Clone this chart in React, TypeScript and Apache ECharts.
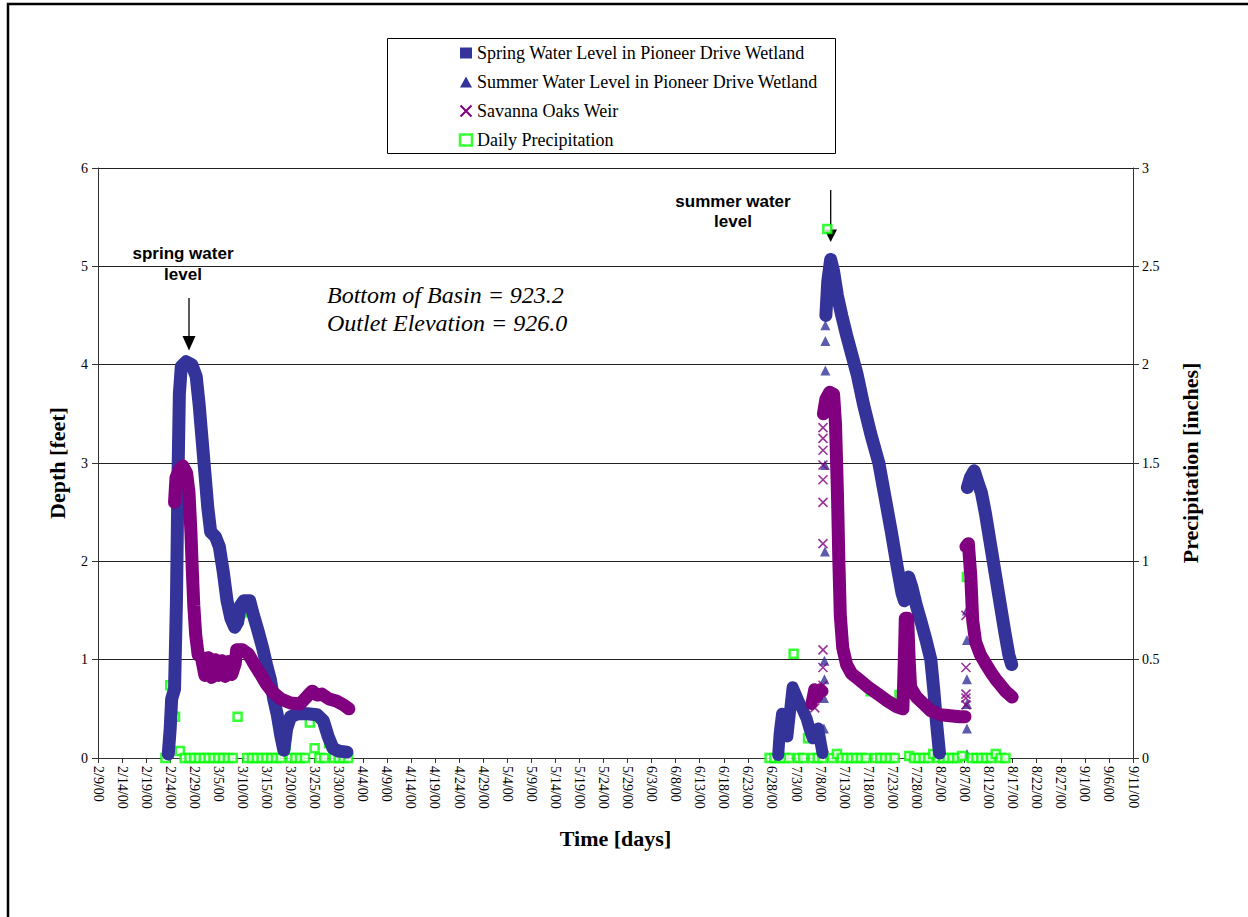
import React, { useEffect, useRef } from "react";
import * as echarts from "echarts";

const SPRING = "Spring Water Level in Pioneer Drive Wetland";
const SUMMER = "Summer Water Level in Pioneer Drive Wetland";
const WEIR = "Savanna Oaks Weir";
const PRECIP = "Daily Precipitation";

// x values are days after 2/9/00; tick every 5 days
const dateTickLabels = [
  "2/9/00", "2/14/00", "2/19/00", "2/24/00", "2/29/00", "3/5/00", "3/10/00", "3/15/00",
  "3/20/00", "3/25/00", "3/30/00", "4/4/00", "4/9/00", "4/14/00", "4/19/00", "4/24/00",
  "4/29/00", "5/4/00", "5/9/00", "5/14/00", "5/19/00", "5/24/00", "5/29/00", "6/3/00",
  "6/8/00", "6/13/00", "6/18/00", "6/23/00", "6/28/00", "7/3/00", "7/8/00", "7/13/00",
  "7/18/00", "7/23/00", "7/28/00", "8/2/00", "8/7/00", "8/12/00", "8/17/00", "8/22/00",
  "8/27/00", "9/1/00", "9/6/00", "9/11/00",
];

// [day, depth ft]
const springLevel: [number, number][] = [
  [14.6, 0.04], [15.0, 0.3], [15.3, 0.6], [15.9, 0.7], [16.3, 1.6], [16.6, 2.8], [16.9, 3.7],
  [17.3, 3.98], [18.3, 4.03], [19.5, 4.0], [20.4, 3.88], [21.0, 3.6], [21.6, 3.25], [22.2, 2.9],
  [22.8, 2.55], [23.4, 2.3], [24.4, 2.25], [25.2, 2.15], [26.0, 1.9], [26.8, 1.6], [27.6, 1.42],
  [28.4, 1.33], [29.0, 1.38], [29.6, 1.55], [30.3, 1.6], [31.5, 1.6], [32.3, 1.45], [33.2, 1.3],
  [34.2, 1.12], [35.0, 0.95], [35.8, 0.8], [36.5, 0.6], [37.2, 0.45], [38.0, 0.22], [38.6, 0.08],
  [39.2, 0.3], [40.0, 0.42], [41.5, 0.45], [43.5, 0.45], [45.5, 0.44], [46.8, 0.38], [47.8, 0.22],
  [48.8, 0.1], [50.0, 0.07], [51.7, 0.06],
];

const summerLevelEarly: [number, number][] = [
  [141.3, 0.03], [141.6, 0.25], [142.1, 0.45], [142.6, 0.35], [143.2, 0.22], [143.7, 0.45],
  [144.3, 0.72], [144.8, 0.66], [145.5, 0.58], [146.3, 0.5], [147.2, 0.4], [147.9, 0.28],
  [148.5, 0.2], [149.1, 0.27], [149.6, 0.3], [150.1, 0.16], [150.5, 0.05],
];

const summerLevelMain: [number, number][] = [
  [151.2, 4.5], [151.6, 4.85], [152.2, 5.07], [152.8, 4.95], [153.6, 4.7], [154.5, 4.5],
  [155.5, 4.3], [156.6, 4.1], [157.7, 3.9], [159.0, 3.6], [160.5, 3.3], [162.2, 3.0],
  [163.5, 2.65], [164.8, 2.3], [166.0, 1.95], [167.0, 1.68], [167.5, 1.6], [168.0, 1.78],
  [168.4, 1.84], [169.0, 1.75], [170.0, 1.55], [171.0, 1.38], [172.0, 1.2], [173.0, 1.0],
  [173.6, 0.7], [174.2, 0.35], [174.8, 0.05],
];

const summerLevelLate: [number, number][] = [
  [180.6, 2.75], [181.2, 2.85], [182.0, 2.92], [182.8, 2.8], [183.5, 2.7], [184.3, 2.5],
  [185.3, 2.2], [186.3, 1.9], [187.3, 1.6], [188.3, 1.3], [189.2, 1.05], [189.8, 0.95],
];

const summerRiseMarks: [number, number][] = [
  [150.8, 0.11], [150.8, 0.3], [150.8, 0.61], [150.9, 0.8], [150.9, 0.99], [151.0, 2.1],
  [151.0, 2.98], [151.1, 3.94], [151.1, 4.24], [151.1, 4.4],
  [180.5, 0.04], [180.5, 0.3], [180.5, 0.55], [180.5, 0.8], [180.5, 1.2], [180.5, 1.5],
];

const weirSpring: [number, number][] = [
  [15.9, 2.6], [16.2, 2.85], [16.8, 2.92], [17.6, 2.97], [18.4, 2.9], [18.9, 2.7], [19.3, 2.3],
  [19.6, 1.9], [19.9, 1.55], [20.3, 1.25], [20.8, 1.05], [21.5, 1.02], [22.2, 0.84], [22.9, 1.02],
  [23.6, 0.82], [24.3, 1.0], [25.0, 0.84], [25.7, 0.99], [26.4, 0.83], [27.1, 0.98], [27.8, 0.85],
  [28.5, 0.96], [28.8, 1.1], [30.0, 1.1], [31.2, 1.06], [32.5, 0.95], [33.8, 0.85], [35.0, 0.75],
  [36.3, 0.67], [38.0, 0.6], [40.0, 0.56], [42.0, 0.55], [43.5, 0.63], [44.5, 0.68], [45.5, 0.64],
  [46.5, 0.65], [48.0, 0.6], [49.5, 0.58], [51.0, 0.54], [52.1, 0.5],
];

const weirSummerEarly: [number, number][] = [
  [148.2, 0.55], [148.8, 0.7], [149.4, 0.62], [150.0, 0.7], [150.5, 0.68],
];

const weirSummerMain: [number, number][] = [
  [150.7, 3.5], [151.2, 3.65], [152.0, 3.72], [152.8, 3.7], [153.2, 3.4], [153.6, 2.7],
  [153.9, 2.0], [154.2, 1.45], [154.7, 1.12], [155.5, 0.95], [156.5, 0.86], [158.0, 0.8],
  [160.0, 0.72], [162.0, 0.65], [164.0, 0.58], [166.0, 0.52], [167.2, 0.5], [167.5, 1.0],
  [167.7, 1.42], [168.2, 1.42], [168.5, 1.0], [168.8, 0.72], [170.0, 0.62], [171.5, 0.55],
  [173.0, 0.48], [175.0, 0.44], [177.0, 0.43], [179.0, 0.42], [180.1, 0.42],
];

const weirSummerLate: [number, number][] = [
  [180.3, 2.15], [180.8, 2.18], [181.3, 1.85], [181.7, 1.4], [182.3, 1.18], [183.3, 1.05],
  [184.5, 0.95], [185.5, 0.87], [186.5, 0.8], [187.5, 0.74], [188.5, 0.68], [189.9, 0.62],
];

const weirRiseMarks: [number, number][] = [
  [148.9, 0.51], [150.6, 0.74], [150.6, 0.92], [150.6, 1.1], [150.6, 2.18], [150.6, 2.6],
  [150.6, 2.83], [150.6, 2.98], [150.6, 3.13], [150.6, 3.25], [150.6, 3.36],
  [180.3, 0.54], [180.3, 0.61], [180.3, 0.65], [180.3, 0.92], [180.3, 1.45],
];

// [day, inches]
const precipSpring: [number, number][] = [
  [14, 0], [15, 0.37], [16, 0.21], [17, 0.035], [18, 0], [19, 0], [20, 0], [21, 0], [22, 0],
  [23, 0], [24, 0], [25, 0], [26, 0], [27, 0], [28, 0], [29, 0.21], [30, 0.74], [31, 0], [32, 0],
  [33, 0], [34, 0], [35, 0], [36, 0], [37, 0], [38, 0], [39, 0.065], [40, 0], [41, 0], [42, 0],
  [43, 0], [44, 0.18], [45, 0.05], [46, 0], [47, 0], [48, 0.075], [49, 0], [50, 0], [51, 0], [52, 0],
];

const precipSummer: [number, number][] = [
  [139.5, 0], [140.5, 0], [141.5, 0], [142.5, 0], [143.5, 0], [144.5, 0.53], [145.5, 0],
  [146.5, 0], [147.5, 0.1], [148.5, 0], [149.5, 0], [150.5, 0], [151.5, 2.69], [152.5, 0],
  [153.5, 0.02], [154.5, 0], [155.5, 0], [156.5, 0], [157.5, 0], [158.5, 0], [159.5, 0],
  [160.5, 0.34], [161.5, 0], [162.5, 0], [163.5, 0], [164.5, 0], [165.5, 0], [166.5, 0.32],
  [167.5, 0.51], [168.5, 0.01], [169.5, 0], [170.5, 0], [171.5, 0], [172.5, 0], [173.5, 0.02],
  [174.5, 0], [175.5, 0], [176.5, 0], [177.5, 0], [178.5, 0], [179.5, 0.01], [180.5, 0.92],
  [181.5, 0], [182.5, 0], [183.5, 0], [184.5, 0], [185.5, 0], [186.5, 0.02], [187.5, 0], [188.5, 0],
];

const BLUE = "#333399";
const PURPLE = "#800080";
const GREEN = "#00ff00";
const SERIF = "Liberation Serif";
const SANS = "Liberation Sans";
const X_PATH = "path://M0,0L10,10M10,0L0,10";

function lineSeries(name: string, data: [number, number][], color: string, width: number) {
  return {
    type: "line",
    name,
    data,
    yAxisIndex: 0,
    symbol: "none",
    showSymbol: false,
    silent: true,
    lineStyle: { color, width, cap: "round", join: "round" },
    itemStyle: { color },
    emphasis: { disabled: true },
  };
}

export default function App() {
  const ref = useRef<HTMLDivElement>(null);

  useEffect(() => {
    if (!ref.current) return;
    const chart = echarts.init(ref.current, null, { renderer: "svg" });

    const axisTitle = { fontFamily: SERIF, fontWeight: "bold", fontSize: 22, color: "#000" };
    const tickText = { fontFamily: SERIF, fontSize: 14, color: "#000" };
    const axisLine = { show: true, onZero: false, lineStyle: { color: "#333", width: 1 } };

    const option: any = {
      animation: false,
      backgroundColor: "#fff",
      grid: { left: 98, right: 115, top: 168, bottom: 159, containLabel: false, outerBoundsMode: "none" },
      legend: {
        orient: "vertical",
        left: 458,
        top: 44,
        padding: 0,
        itemGap: 11,
        itemWidth: 12,
        itemHeight: 11,
        selectedMode: false,
        textStyle: { fontFamily: SERIF, fontSize: 18, color: "#000", lineHeight: 18 },
        data: [
          { name: SPRING, icon: "rect", itemStyle: { color: BLUE } },
          { name: SUMMER, icon: "triangle", itemStyle: { color: BLUE } },
          { name: WEIR, icon: X_PATH, itemStyle: { color: "none", borderColor: PURPLE, borderWidth: 2 } },
          { name: PRECIP, icon: "rect", itemStyle: { color: "#fff", borderColor: GREEN, borderWidth: 2.5 } },
        ],
      },
      xAxis: {
        type: "value",
        min: 0,
        max: 215,
        interval: 5,
        name: "Time [days]",
        nameLocation: "middle",
        nameGap: 69,
        nameTextStyle: axisTitle,
        axisLine,
        axisTick: { show: true, length: 5, lineStyle: { color: "#333" } },
        axisLabel: {
          ...tickText,
          rotate: -90,
          margin: 8,
          formatter: (v: number) => dateTickLabels[Math.round(v / 5)] ?? "",
        },
        splitLine: { show: false },
      },
      yAxis: [
        {
          type: "value",
          min: 0,
          max: 6,
          interval: 1,
          position: "left",
          name: "Depth [feet]",
          nameLocation: "middle",
          nameRotate: 90,
          nameGap: 30,
          nameTextStyle: axisTitle,
          axisLine,
          axisTick: { show: true, length: 6, lineStyle: { color: "#333" } },
          axisLabel: { ...tickText, margin: 10 },
          splitLine: { show: true, lineStyle: { color: "#222", width: 1 } },
        },
        {
          type: "value",
          min: 0,
          max: 3,
          interval: 0.5,
          position: "right",
          name: "Precipitation [inches]",
          nameLocation: "middle",
          nameRotate: 90,
          nameGap: 46,
          nameTextStyle: axisTitle,
          axisLine,
          axisTick: { show: true, length: 6, lineStyle: { color: "#333" } },
          axisLabel: { ...tickText, margin: 9 },
          splitLine: { show: false },
        },
      ],
      series: [
        lineSeries(SPRING, springLevel, BLUE, 13),
        lineSeries(SUMMER, summerLevelEarly, BLUE, 12),
        lineSeries(SUMMER, summerLevelMain, BLUE, 13),
        lineSeries(SUMMER, summerLevelLate, BLUE, 13),
        {
          type: "scatter",
          name: SUMMER,
          data: summerRiseMarks,
          yAxisIndex: 0,
          symbol: "triangle",
          symbolSize: 10,
          silent: true,
          itemStyle: { color: BLUE },
        },
        lineSeries(WEIR, weirSpring, PURPLE, 13),
        lineSeries(WEIR, weirSummerEarly, PURPLE, 12),
        lineSeries(WEIR, weirSummerMain, PURPLE, 13),
        lineSeries(WEIR, weirSummerLate, PURPLE, 13),
        {
          type: "scatter",
          name: WEIR,
          data: weirRiseMarks,
          yAxisIndex: 0,
          symbol: X_PATH,
          symbolSize: 9,
          silent: true,
          itemStyle: { color: "none", borderColor: PURPLE, borderWidth: 1.6 },
        },
        {
          type: "scatter",
          name: PRECIP,
          data: [...precipSpring, ...precipSummer],
          yAxisIndex: 1,
          symbol: "rect",
          symbolSize: 8,
          silent: true,
          itemStyle: { color: "#fff", borderColor: GREEN, borderWidth: 2.5 },
        },
      ],
      graphic: [
        {
          type: "rect",
          silent: true,
          shape: { x: 8, y: 4, width: 1400, height: 1100 },
          style: { fill: "none", stroke: "#000", lineWidth: 2.5 },
        },
        {
          type: "rect",
          silent: true,
          shape: { x: 387.5, y: 38.5, width: 448, height: 115 },
          style: { fill: "none", stroke: "#000", lineWidth: 1 },
        },
        {
          type: "text",
          silent: true,
          x: 183,
          y: 243,
          style: {
            text: "spring water\nlevel",
            font: `bold 17px "${SANS}"`,
            fill: "#000",
            align: "center",
            verticalAlign: "top",
            lineHeight: 21,
          },
        },
        {
          type: "line",
          silent: true,
          shape: { x1: 189, y1: 298, x2: 189, y2: 338 },
          style: { stroke: "#000", lineWidth: 1.3 },
        },
        {
          type: "polygon",
          silent: true,
          shape: { points: [[182.5, 336], [195.5, 336], [189, 350.5]] },
          style: { fill: "#000" },
        },
        {
          type: "text",
          silent: true,
          x: 733,
          y: 191,
          style: {
            text: "summer water\nlevel",
            font: `bold 17px "${SANS}"`,
            fill: "#000",
            align: "center",
            verticalAlign: "top",
            lineHeight: 20,
          },
        },
        {
          type: "line",
          silent: true,
          shape: { x1: 830.7, y1: 190, x2: 830.7, y2: 232 },
          style: { stroke: "#000", lineWidth: 1.3 },
        },
        {
          type: "polygon",
          silent: true,
          shape: { points: [[824.5, 229.5], [837, 229.5], [830.7, 242]] },
          style: { fill: "#000" },
        },
        {
          type: "text",
          silent: true,
          x: 327,
          y: 281,
          style: {
            text: "Bottom of Basin = 923.2\nOutlet Elevation = 926.0",
            font: `italic 24px "${SERIF}"`,
            fill: "#000",
            align: "left",
            verticalAlign: "top",
            lineHeight: 28,
          },
        },
      ],
    };

    chart.setOption(option);
    return () => chart.dispose();
  }, []);

  return (
    <div
      ref={ref}
      style={{ position: "absolute", left: 0, top: 0, width: 1248, height: 917, background: "#fff" }}
    />
  );
}
